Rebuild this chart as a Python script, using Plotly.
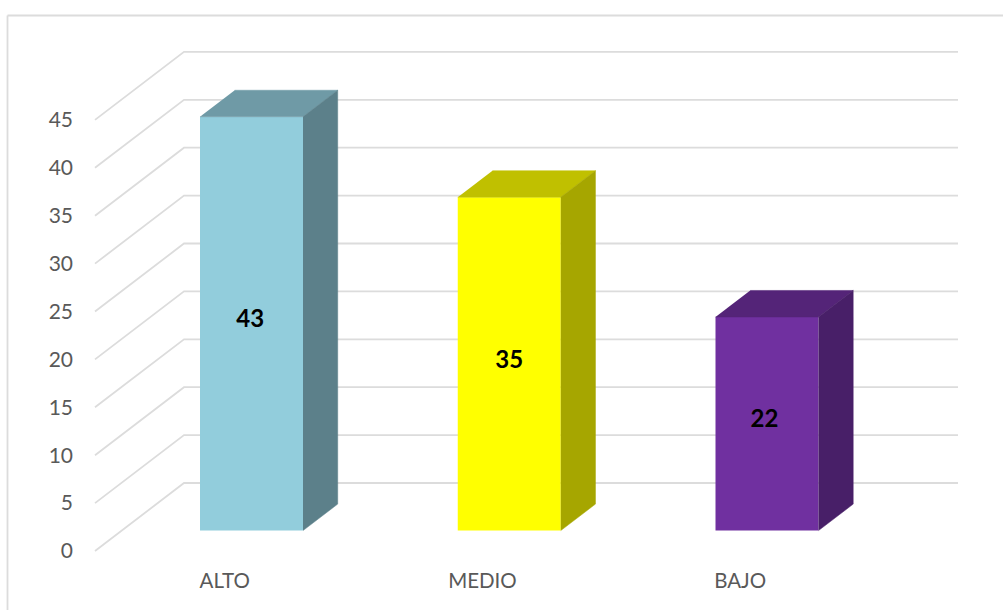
import plotly.graph_objects as go

categories = ["ALTO", "MEDIO", "BAJO"]
values = [43.2, 34.8, 22.3]
data_labels = ["43", "35", "22"]
front_colors = ["#92CDDC", "#FFFF00", "#7030A0"]
top_colors = ["#6F9AA6", "#C0C000", "#542478"]
side_colors = ["#5C808A", "#A6A600", "#481F68"]
y_ticks = [0, 5, 10, 15, 20, 25, 30, 35, 40, 45]

W, H = 1003, 610
L, R, T, B = 78, 960, 40, 565
PX_PER_CAT = 257.75
PX_PER_VAL = 9.58
X0_PX = 251.5   # pixel of category 0 (front face centre)
Y0_PX = 551.0   # pixel of value 0 on the front plane

xr = [(L - X0_PX) / PX_PER_CAT, (R - X0_PX) / PX_PER_CAT]
yr = [(Y0_PX - B) / PX_PER_VAL, (Y0_PX - T) / PX_PER_VAL]

# oblique projection: depth 0 = front plane, depth 1 = back wall
DX = 89.0 / PX_PER_CAT
DY = 68.0 / PX_PER_VAL
WALL_LEFT = (95.0 - X0_PX) / PX_PER_CAT
WALL_RIGHT = (958.0 - X0_PX) / PX_PER_CAT
BAR_W = 103.0 / PX_PER_CAT
D_FRONT, D_BACK = 0.30, 0.69
GRID = dict(color="#DCDCDC", width=1.8)


def proj(x, v, d):
    return x + d * DX, v + d * DY


fig = go.Figure()

# gridlines: side-wall diagonal and back-wall run, under every trace
shapes = []
for v in y_ticks:
    a = proj(WALL_LEFT, v, 0)
    b = proj(WALL_LEFT, v, 1)
    shapes.append(dict(type="path", xref="x", yref="y", layer="below", line=GRID,
                       path=f"M {a[0]} {a[1]} L {b[0]} {b[1]} L {WALL_RIGHT} {b[1]}"))

# top and side faces of each column (front face sits at depth D_FRONT)
for i, v in enumerate(values):
    xl = i - BAR_W / 2 - D_FRONT * DX
    xe = i + BAR_W / 2 - D_FRONT * DX
    top = [proj(xl, v, D_FRONT), proj(xe, v, D_FRONT),
           proj(xe, v, D_BACK), proj(xl, v, D_BACK)]
    side = [proj(xe, 0, D_FRONT), proj(xe, 0, D_BACK),
            proj(xe, v, D_BACK), proj(xe, v, D_FRONT)]
    for poly, col in ((top, top_colors[i]), (side, side_colors[i])):
        fig.add_trace(go.Scatter(x=[p[0] for p in poly], y=[p[1] for p in poly],
                                 mode="lines", fill="toself", fillcolor=col,
                                 line=dict(color=col, width=0.5), hoverinfo="skip"))

# front faces
base = D_FRONT * DY
fig.add_trace(go.Bar(x=[0, 1, 2], y=values, base=[base] * 3, width=BAR_W,
                     marker=dict(color=front_colors, line=dict(width=0))))

# data labels
fig.add_trace(go.Scatter(x=[-0.005, 1.0, 1.99], y=[base + v / 2 + 0.25 for v in values],
                         mode="text", text=data_labels, textposition="middle center",
                         textfont=dict(family="Lato", size=24, color="#000000", weight="bold"),
                         hoverinfo="skip"))

# chart-area frame: top and left edges only
fx0 = (7.5 - L) / (R - L)
fx1 = (W - L) / (R - L)
fy1 = (B - 15.5) / (B - T)
fy0 = (B - H) / (B - T)
shapes += [
    dict(type="line", xref="paper", yref="paper", x0=fx0, x1=fx1, y0=fy1, y1=fy1, line=GRID),
    dict(type="line", xref="paper", yref="paper", x0=fx0, x1=fx0, y0=fy0, y1=fy1, line=GRID),
]

fig.update_layout(
    width=W, height=H, showlegend=False, barmode="overlay",
    paper_bgcolor="#FFFFFF", plot_bgcolor="rgba(0,0,0,0)",
    margin=dict(l=L, r=W - R, t=T, b=H - B, autoexpand=False),
    xaxis=dict(range=xr, tickmode="array", tickvals=[i - 0.104 for i in range(3)],
               ticktext=categories, showgrid=False, zeroline=False, showline=False,
               ticks="", ticklabelstandoff=1,
               tickfont=dict(family="Lato", size=20.5, color="#595959")),
    yaxis=dict(range=yr, tickmode="array", tickvals=y_ticks, showgrid=False,
               zeroline=False, showline=False, ticks="", ticklabelstandoff=4,
               tickfont=dict(family="Lato", size=21, color="#595959")),
    shapes=shapes,
)

fig.write_html("out.html", config=dict(displayModeBar=False),
               post_script="document.body.style.margin='0';document.body.style.overflow='hidden';")
